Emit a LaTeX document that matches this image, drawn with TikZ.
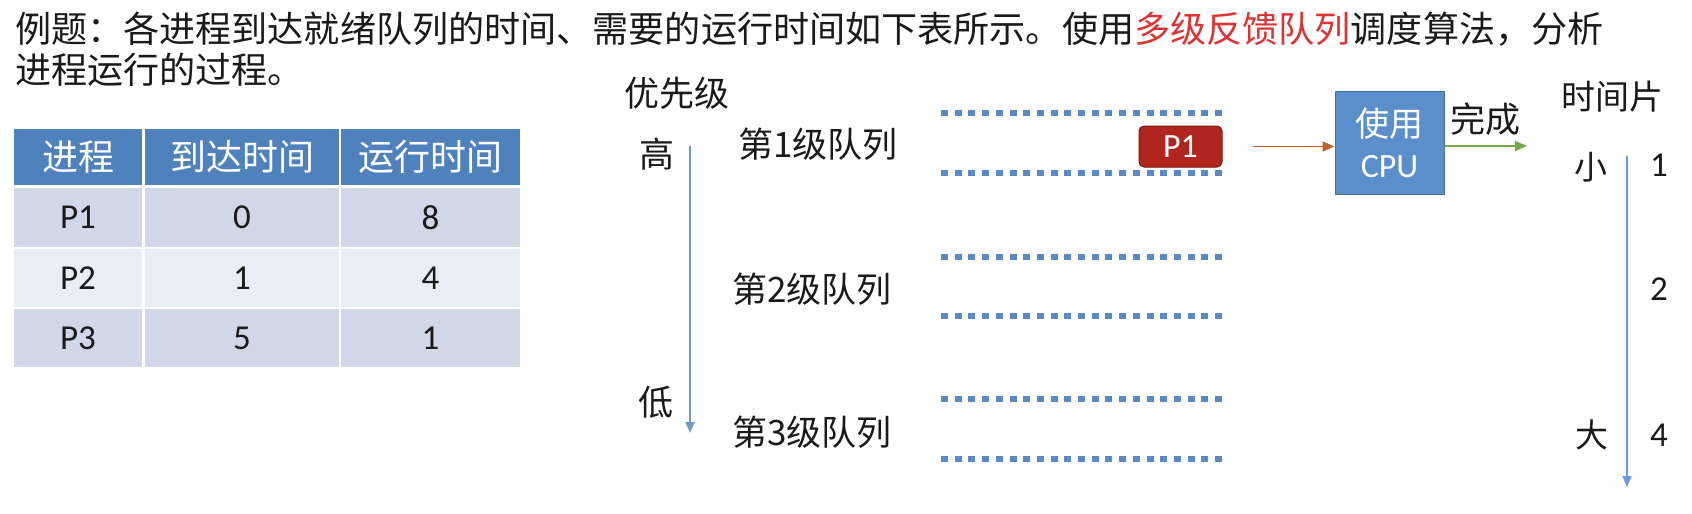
\documentclass[tikz,border=0pt]{standalone}
\usepackage{fontspec}
\setmainfont{Carlito}
\newfontfamily\cjk{Noto Sans CJK SC}
\usetikzlibrary{arrows.meta}
\definecolor{hdr}{HTML}{4F81BD}
\definecolor{rowa}{HTML}{D0D8E8}
\definecolor{rowb}{HTML}{E9EDF4}
\definecolor{qblue}{HTML}{5A8AC6}
\definecolor{pred}{HTML}{B0261F}
\definecolor{predd}{HTML}{7A1612}
\definecolor{cpub}{HTML}{5B8FCB}
\definecolor{cpud}{HTML}{41719C}
\definecolor{arrred}{HTML}{C0622D}
\definecolor{arrgreen}{HTML}{74A94A}
\definecolor{axblue}{HTML}{6A9AD4}
\definecolor{txt}{HTML}{1A1A1A}
\definecolor{hired}{HTML}{DD3333}
\begin{document}
\begin{tikzpicture}[x=1pt,y=-1pt,
  cell/.style={draw=none,inner sep=0pt,minimum height=#1},
  ctext/.style={inner sep=0pt,text=txt,font=\fontsize{35}{37}\selectfont},
  htext/.style={inner sep=0pt,text=white,font=\cjk\fontsize{36}{38}\selectfont},
  lab/.style={inner sep=0pt,text=txt,font=\cjk\fontsize{35}{37}\selectfont},
  num/.style={inner sep=0pt,text=txt,font=\fontsize{35}{37}\selectfont},
  qline/.style={draw=qblue,line width=5.5pt,dash pattern=on 7pt off 6.7pt},
  axis/.style={draw=axblue,line width=1.8pt,-{Triangle[width=9pt,length=11pt]}},
  flow/.style={line width=1.8pt,-{Triangle[width=10pt,length=12pt]}}
]
\useasboundingbox (0,0) rectangle (1692,514);

% title
\node[anchor=base west,inner sep=0pt,text=txt,font=\cjk\fontsize{36.1}{40}\selectfont] (t1) at (15,42)
  {例题：各进程到达就绪队列的时间、需要的运行时间如下表所示。使用{\color{hired}多级反馈队列}调度算法，分析};
\node[anchor=base west,inner sep=0pt,text=txt,font=\cjk\fontsize{36.1}{40}\selectfont] (t2) at (15,83)
  {进程运行的过程。};

% table cells
\foreach \cx/\w/\n in {78/128/a,242/194/b,430.5/179/c}{
  \node[cell=56pt,fill=hdr,minimum width=\w] (h\n) at (\cx,157) {};
  \node[cell=59pt,fill=rowa,minimum width=\w] (r1\n) at (\cx,217.5) {};
  \node[cell=58pt,fill=rowb,minimum width=\w] (r2\n) at (\cx,278) {};
  \node[cell=58pt,fill=rowa,minimum width=\w] (r3\n) at (\cx,338) {};
}
\node[htext] (th1) at (ha) {进程};
\node[htext] (th2) at (hb) {到达时间};
\node[htext] (th3) at (hc) {运行时间};
\node[ctext] (p1a) at (r1a) {P1};
\node[ctext] (p1b) at (r1b) {0};
\node[ctext] (p1c) at (r1c) {8};
\node[ctext] (p2a) at (r2a) {P2};
\node[ctext] (p2b) at (r2b) {1};
\node[ctext] (p2c) at (r2c) {4};
\node[ctext] (p3a) at (r3a) {P3};
\node[ctext] (p3b) at (r3b) {5};
\node[ctext] (p3c) at (r3c) {1};

% priority axis
\node[lab] (prio) at (677,93) {优先级};
\node[lab] (high) at (657,154) {高};
\node[lab] (low) at (656,402) {低};
\coordinate (pa) at (690,146);
\coordinate (pb) at (690,433);
\draw[axis] (pa) -- (pb);

% queues
\node[lab,anchor=west] (q1) at (738,144) {第1级队列};
\node[lab,anchor=west] (q2) at (732,289) {第2级队列};
\node[lab,anchor=west] (q3) at (732,432) {第3级队列};
\draw[qline] (941,113) -- (1228,113);
\draw[qline] (941,173) -- (1228,173);
\draw[qline] (941,257) -- (1228,257);
\draw[qline] (941,316) -- (1228,316);
\draw[qline] (941,399) -- (1228,399);
\draw[qline] (941,459) -- (1228,459);

% P1 in queue
\node[draw=predd,line width=1pt,fill=pred,rounded corners=5pt,minimum width=83pt,minimum height=41pt,inner sep=0pt,
  text=white,font=\fontsize{34}{36}\selectfont] (p1) at (1180.5,146.5) {P1};

% CPU
\node[draw=cpud,line width=1pt,fill=cpub,minimum width=109pt,minimum height=103pt,inner sep=0pt,
  text=white,align=center,font=\fontsize{34}{41}\selectfont] (cpu) at (1389.5,143)
  {{\cjk 使用}\\CPU};
\draw[flow,draw=arrred] ([xshift=30pt]p1.east) -- (cpu.west |- p1.east);

\node[lab] (fin) at (1485,119) {完成};
\coordinate (done) at (1527,146);
\draw[flow,draw=arrgreen] (cpu.east |- done) -- (done);

% time slice axis
\node[lab,font=\cjk\fontsize{34}{36}\selectfont] (slice) at (1612,97) {时间片};
\node[lab,font=\cjk\fontsize{33}{35}\selectfont] (small) at (1591,167) {小};
\node[lab,font=\cjk\fontsize{33}{35}\selectfont] (big) at (1592,435) {大};
\node[num] (n1) at (1659,165) {1};
\node[num] (n2) at (1659,289) {2};
\node[num] (n4) at (1659,435) {4};
\coordinate (ta) at (1627,156);
\coordinate (tb) at (1627,487);
\draw[axis] (ta) -- (tb);
\end{tikzpicture}
\end{document}
